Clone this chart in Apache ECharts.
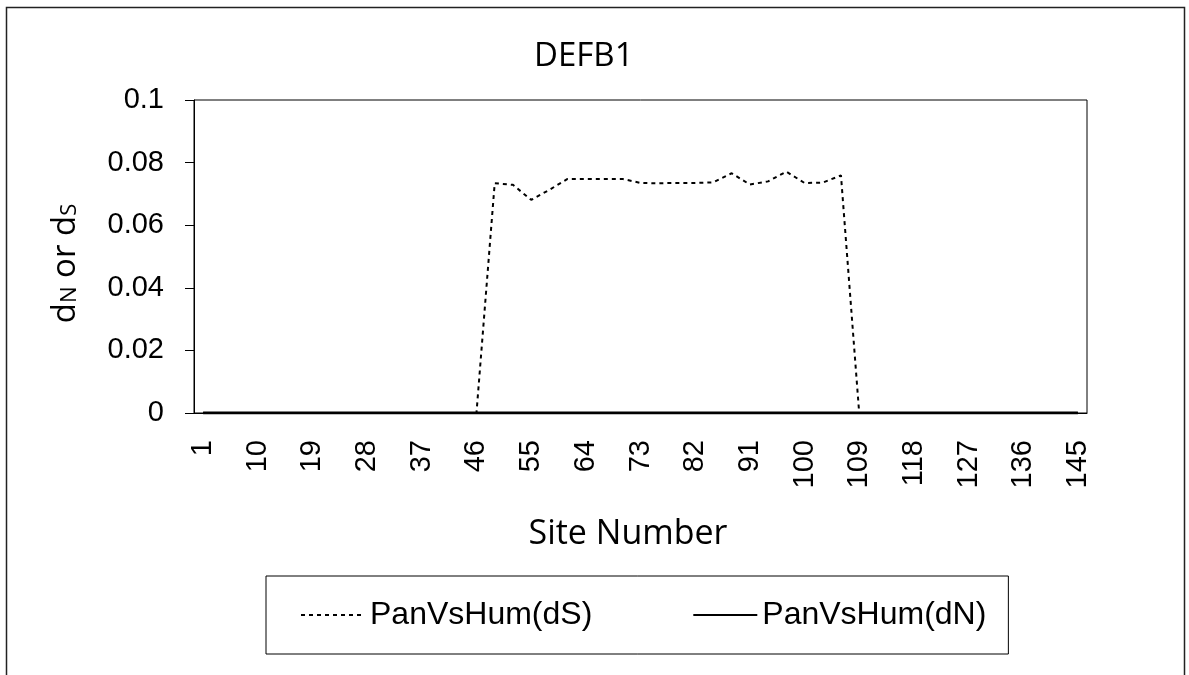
<!DOCTYPE html>
<html>
<head>
<meta charset="utf-8">
<title>DEFB1</title>
<script src="https://cdn.jsdelivr.net/npm/echarts@6/dist/echarts.min.js"></script>
<style>
  html, body { margin: 0; padding: 0; background: #fff; }
  #chart { width: 1189px; height: 675px; }
</style>
</head>
<body>
<div id="chart"></div>
<script>
// site numbers along the x axis (every 3rd site)
var sites = [1, 4, 7, 10, 13, 16, 19, 22, 25, 28, 31, 34, 37, 40, 43, 46, 49, 52, 55, 58,
  61, 64, 67, 70, 73, 76, 79, 82, 85, 88, 91, 94, 97, 100, 103, 106, 109, 112, 115, 118,
  121, 124, 127, 130, 133, 136, 139, 142, 145];

// PanVsHum(dS) - dotted line
var dS = [0, 0, 0, 0, 0, 0, 0, 0, 0, 0, 0, 0, 0, 0, 0, 0,
  0.0734, 0.0729, 0.0681, 0.0713, 0.0748, 0.0748, 0.0748, 0.0748, 0.0735, 0.0734,
  0.0735, 0.0735, 0.0737, 0.0766, 0.0730, 0.0740, 0.0771, 0.0735, 0.0736, 0.0759,
  0, 0, 0, 0, 0, 0, 0, 0, 0, 0, 0, 0, 0];

// PanVsHum(dN) - solid line
var dN = [0, 0, 0, 0, 0, 0, 0, 0, 0, 0, 0, 0, 0, 0, 0, 0, 0, 0, 0, 0,
  0, 0, 0, 0, 0, 0, 0, 0, 0, 0, 0, 0, 0, 0, 0, 0, 0, 0, 0, 0,
  0, 0, 0, 0, 0, 0, 0, 0, 0];

var yTicks = { min: 0, max: 0.1, step: 0.02 };

var myChart = echarts.init(document.getElementById('chart'));

var labelFont = 'Liberation Sans, Arial, sans-serif';
var titleFont = 'Open Sans, Noto Sans, sans-serif';

var option = {
  animation: false,
  backgroundColor: '#fff',
  title: {
    text: 'DEFB1',
    left: 529,
    top: 35,
    textStyle: {
      fontFamily: titleFont,
      fontSize: 33,
      fontWeight: 'normal',
      color: '#000'
    }
  },
  // outer frame of the chart
  graphic: [{
    type: 'rect',
    shape: { x: 6.5, y: 7.5, width: 1178, height: 720 },
    style: { fill: 'none', stroke: '#222', lineWidth: 1.5 },
    silent: true
  }],
  grid: {
    left: 194,
    top: 100,
    right: 102,
    bottom: 262,
    show: true,
    borderColor: '#000',
    borderWidth: 1,
    outerBoundsMode: 'none'
  },
  legend: {
    left: 266,
    top: 576,
    padding: [23, 22, 23, 34],
    itemGap: 100,
    itemWidth: 64,
    itemHeight: 14,
    itemStyle: { opacity: 0 },
    borderColor: '#000',
    borderWidth: 1,
    textStyle: {
      fontFamily: labelFont,
      fontSize: 32,
      color: '#000'
    },
    data: ['PanVsHum(dS)', 'PanVsHum(dN)']
  },
  xAxis: {
    type: 'category',
    data: sites,
    boundaryGap: true,
    name: 'Site Number',
    nameLocation: 'middle',
    nameGap: 104,
    nameTextStyle: {
      fontFamily: titleFont,
      fontSize: 34,
      color: '#000',
      padding: [0, 25, 0, 0]
    },
    axisLine: { lineStyle: { color: '#000', width: 1 } },
    axisTick: {
      interval: 0,
      length: 10,
      lineStyle: { color: '#444' }
    },
    axisLabel: {
      interval: 2,
      rotate: 90,
      margin: 27,
      fontFamily: labelFont,
      fontSize: 29,
      color: '#000'
    },
    splitLine: { show: false }
  },
  yAxis: {
    type: 'value',
    min: yTicks.min,
    max: yTicks.max,
    interval: yTicks.step,
    name: 'd{s|N} or d{s|S}',
    nameLocation: 'middle',
    nameGap: 112,
    nameRotate: 90,
    nameTextStyle: {
      fontFamily: titleFont,
      fontSize: 33,
      color: '#000',
      padding: [0, 14, 0, 0],
      rich: {
        s: {
          fontFamily: titleFont,
          fontSize: 22,
          color: '#000',
          padding: [9, 0, 0, 0]
        }
      }
    },
    axisLine: { show: true, lineStyle: { color: '#000', width: 1 } },
    axisTick: { show: true, length: 9, lineStyle: { color: '#000' } },
    axisLabel: {
      margin: 30,
      fontFamily: labelFont,
      fontSize: 29,
      color: '#000'
    },
    splitLine: { show: false }
  },
  series: [
    {
      name: 'PanVsHum(dS)',
      type: 'line',
      data: dS,
      symbol: 'none',
      lineStyle: { color: '#000', width: 2, type: [4, 4] },
      itemStyle: { color: '#000' }
    },
    {
      name: 'PanVsHum(dN)',
      type: 'line',
      data: dN,
      symbol: 'none',
      lineStyle: { color: '#000', width: 3, type: 'solid' },
      itemStyle: { color: '#000' }
    }
  ]
};

myChart.setOption(option);
</script>
</body>
</html>
